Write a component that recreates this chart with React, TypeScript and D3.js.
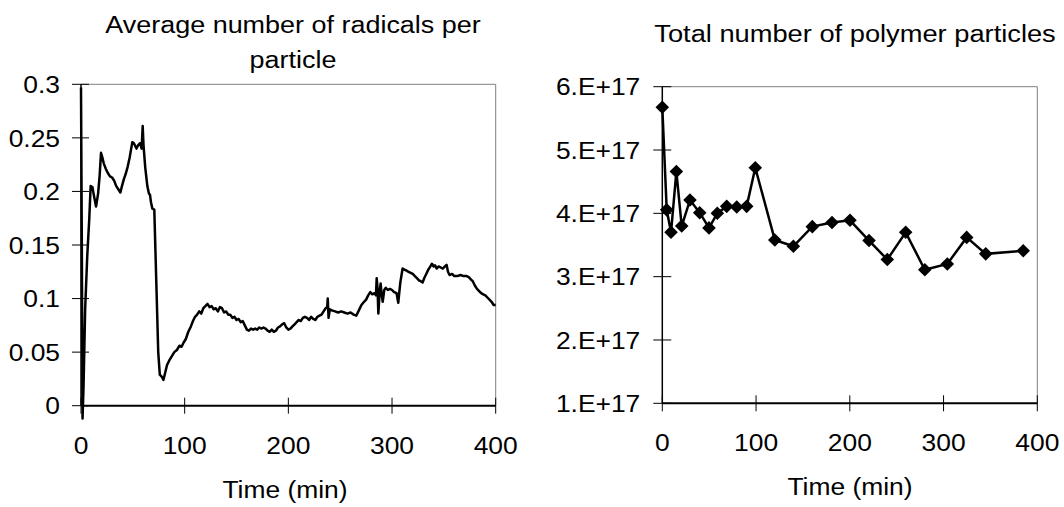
import React from "react";
import * as d3 from "d3";

// Left chart: average number of radicals per particle
const radTime = [0,0.8,1.5,2.5,4,6,8,9.3,11,12.5,14.5,16.5,18,19.3,20.5,22,24,26,28,30,32,34,36,38,39.5,41.5,43,45,47,49.5,51,53.5,55,57,58.5,59.5,60.3,62,64,65.5,66.5,67.5,68.8,70.7,72.5,74.5,76,78,79.5,81,83,85,87.5,90,92.5,95,97,99,101,103.5,106,108,110,112,114,116,118,120,122,124,126,128,130,132,134,136,138,140,142,144,146,148,150,152,154,156,158,160,162,164,166,168,170,172,174,176,178,180,182,184,186,188,190,192,194,196,198,200,202,204,206,208,210,212,214,216,218,220,222,224,226,228,230,232,234,236,237.5,238,238.8,240,242,245,248,251,254,257,260,263,265.5,268,270.5,273,275,277,279,281,283,284.5,285.2,286,286.8,288,289,290,291,292.5,294,296,298,300,302,304.4,306,308,310.2,312,314,316,318,320,322,324,326,328,329.5,331,333,335,337,338.5,340,341.5,343,345,347,349,351,352.6,354,355.5,358,360,363,366,369,372,374,376,378,380,382,384,386,388,390,392,394,396,398,400];
const radValue = [0.297,0.15,-0.012,0.02,0.09,0.139,0.175,0.205,0.204,0.196,0.186,0.198,0.215,0.236,0.232,0.226,0.221,0.217,0.214,0.213,0.21,0.205,0.202,0.199,0.205,0.212,0.216,0.223,0.232,0.246,0.245,0.24,0.243,0.245,0.24,0.261,0.243,0.222,0.205,0.198,0.197,0.19,0.184,0.183,0.12,0.05,0.029,0.027,0.024,0.03,0.038,0.042,0.046,0.05,0.052,0.056,0.055,0.059,0.062,0.069,0.074,0.079,0.083,0.085,0.088,0.086,0.091,0.093,0.095,0.092,0.093,0.09,0.091,0.088,0.092,0.091,0.087,0.088,0.085,0.085,0.082,0.083,0.08,0.081,0.078,0.079,0.075,0.071,0.07,0.072,0.071,0.072,0.071,0.073,0.072,0.073,0.072,0.07,0.069,0.071,0.069,0.07,0.073,0.074,0.076,0.077,0.073,0.071,0.072,0.074,0.076,0.078,0.08,0.079,0.082,0.083,0.082,0.08,0.083,0.081,0.08,0.083,0.084,0.085,0.088,0.091,0.092,0.1,0.082,0.09,0.089,0.088,0.087,0.088,0.087,0.086,0.087,0.085,0.084,0.089,0.094,0.097,0.099,0.103,0.106,0.104,0.105,0.103,0.119,0.11,0.086,0.105,0.114,0.104,0.097,0.108,0.11,0.108,0.109,0.108,0.106,0.105,0.096,0.115,0.128,0.127,0.126,0.125,0.124,0.123,0.121,0.119,0.117,0.116,0.115,0.119,0.123,0.127,0.13,0.1325,0.13,0.131,0.128,0.13,0.129,0.128,0.13,0.1315,0.125,0.122,0.123,0.121,0.121,0.122,0.121,0.121,0.12,0.118,0.116,0.112,0.109,0.107,0.105,0.104,0.103,0.101,0.099,0.097,0.094,0.094];
const leftYTicks = [0, 0.05, 0.1, 0.15, 0.2, 0.25, 0.3];
const leftYLabels = ["0", "0.05", "0.1", "0.15", "0.2", "0.25", "0.3"];
const xTicks = [0, 100, 200, 300, 400];
const leftTitle = ["Average number of radicals per", "particle"];

// Right chart: total number of polymer particles (units of 1e17)
const partTime = [0,4.7,9.3,15,20.7,29.5,39.9,49.8,58.7,68.7,79.4,90,99.2,120,139.8,160,181,200.2,220.5,240,259.6,280,304,324.7,345,385];
const partValue = [5.675,4.055,3.7,4.66,3.8,4.21,4.01,3.77,4.0,4.11,4.1,4.11,4.72,3.58,3.48,3.79,3.855,3.89,3.57,3.27,3.7,3.11,3.2,3.62,3.36,3.41];
const rightYTicks = [1, 2, 3, 4, 5, 6];
const rightYLabels = ["1.E+17", "2.E+17", "3.E+17", "4.E+17", "5.E+17", "6.E+17"];
const rightTitle = "Total number of polymer particles";
const xTitle = "Time (min)";

const FONT = "'Liberation Sans', Arial, sans-serif";
const SX = 1.1;

type TProps = { x: number; y: number; anchor?: "start" | "middle" | "end"; size: number; dy?: string; children: React.ReactNode };
function T({ x, y, anchor = "middle", size, dy, children }: TProps) {
  return (
    <text transform={`translate(${x},${y}) scale(${SX},1)`} textAnchor={anchor} fontSize={size} dy={dy} fill="#000">
      {children}
    </text>
  );
}

export default function App() {
  const lx = d3.scaleLinear().domain([0, 400]).range([81, 495.7]);
  const ly = d3.scaleLinear().domain([0, 0.3]).range([405.7, 84.3]);
  const leftData = radTime.map((t, i) => [t, radValue[i]] as [number, number]);
  const leftLine = d3.line<[number, number]>().x(d => lx(d[0])).y(d => ly(d[1]))(leftData) || "";

  const rx = d3.scaleLinear().domain([0, 400]).range([662.3, 1037.3]);
  const ry = d3.scaleLinear().domain([1, 6]).range([403.3, 86.7]);
  const rightData = partTime.map((t, i) => [t, partValue[i]] as [number, number]);
  const rightLine = d3.line<[number, number]>().x(d => rx(d[0])).y(d => ry(d[1]))(rightData) || "";
  const diamond = d3.symbol().type(d3.symbolSquare).size(92)() || "";

  const fs = 24;
  return (
    <div style={{ position: "absolute", left: 0, top: 0 }}>
      <svg width={1064} height={507} style={{ display: "block", background: "#fff" }} fontFamily={FONT}>
        {/* LEFT CHART */}
        <g>
          <T x={293} y={33} size={24.5}>{leftTitle[0]}</T>
          <T x={293} y={68} size={24.5}>{leftTitle[1]}</T>
          <line x1={lx(0)} x2={lx(400)} y1={ly(0.3)} y2={ly(0.3)} stroke="#808080" strokeWidth={1} />
          <line x1={lx(400)} x2={lx(400)} y1={ly(0.3)} y2={ly(0)} stroke="#808080" strokeWidth={1} />
          {leftYTicks.map((v, i) => (
            <g key={"ly" + i}>
              <line x1={lx(0) - 9} x2={lx(0) + 8} y1={ly(v)} y2={ly(v)} stroke="#000" strokeWidth={1} />
              <T x={lx(0) - 21} y={ly(v)} dy="0.36em" anchor="end" size={fs}>{leftYLabels[i]}</T>
            </g>
          ))}
          {xTicks.map((v, i) => (
            <g key={"lx" + i}>
              <line x1={lx(v)} x2={lx(v)} y1={ly(0) - 8} y2={ly(0) + 8} stroke="#000" strokeWidth={1} />
              <T x={lx(v)} y={ly(0) + 48} size={fs}>{v}</T>
            </g>
          ))}
          <line x1={lx(0)} x2={lx(0)} y1={ly(0.3)} y2={ly(0)} stroke="#000" strokeWidth={1.5} />
          <line x1={lx(0)} x2={lx(400)} y1={ly(0)} y2={ly(0)} stroke="#000" strokeWidth={2} />
          <path d={leftLine} fill="none" stroke="#000" strokeWidth={2.5} strokeLinejoin="round" />
          <T x={285} y={498} size={fs}>{xTitle}</T>
        </g>

        {/* RIGHT CHART */}
        <g>
          <T x={855} y={42} size={24.8}>{rightTitle}</T>
          <line x1={rx(0)} x2={rx(400)} y1={ry(6)} y2={ry(6)} stroke="#808080" strokeWidth={1} />
          <line x1={rx(400)} x2={rx(400)} y1={ry(6)} y2={ry(1)} stroke="#808080" strokeWidth={1} />
          {rightYTicks.map((v, i) => (
            <g key={"ry" + i}>
              <line x1={rx(0) - 9} x2={rx(0) + 9} y1={ry(v)} y2={ry(v)} stroke="#000" strokeWidth={1} />
              <T x={rx(0) - 22} y={ry(v)} dy="0.36em" anchor="end" size={fs}>{rightYLabels[i]}</T>
            </g>
          ))}
          {xTicks.map((v, i) => (
            <g key={"rx" + i}>
              <line x1={rx(v)} x2={rx(v)} y1={ry(1) - 8} y2={ry(1) + 8} stroke="#000" strokeWidth={1} />
              <T x={rx(v)} y={ry(1) + 47.5} size={fs}>{v}</T>
            </g>
          ))}
          <line x1={rx(0)} x2={rx(0)} y1={ry(6)} y2={ry(1)} stroke="#000" strokeWidth={1.5} />
          <line x1={rx(0)} x2={rx(400)} y1={ry(1)} y2={ry(1)} stroke="#000" strokeWidth={2} />
          <path d={rightLine} fill="none" stroke="#000" strokeWidth={2.5} />
          {rightData.map((d, i) => (
            <path key={"m" + i} d={diamond} transform={`translate(${rx(d[0])},${ry(d[1])}) rotate(45)`} fill="#000" />
          ))}
          <T x={850} y={495} size={fs}>{xTitle}</T>
        </g>
      </svg>
    </div>
  );
}
